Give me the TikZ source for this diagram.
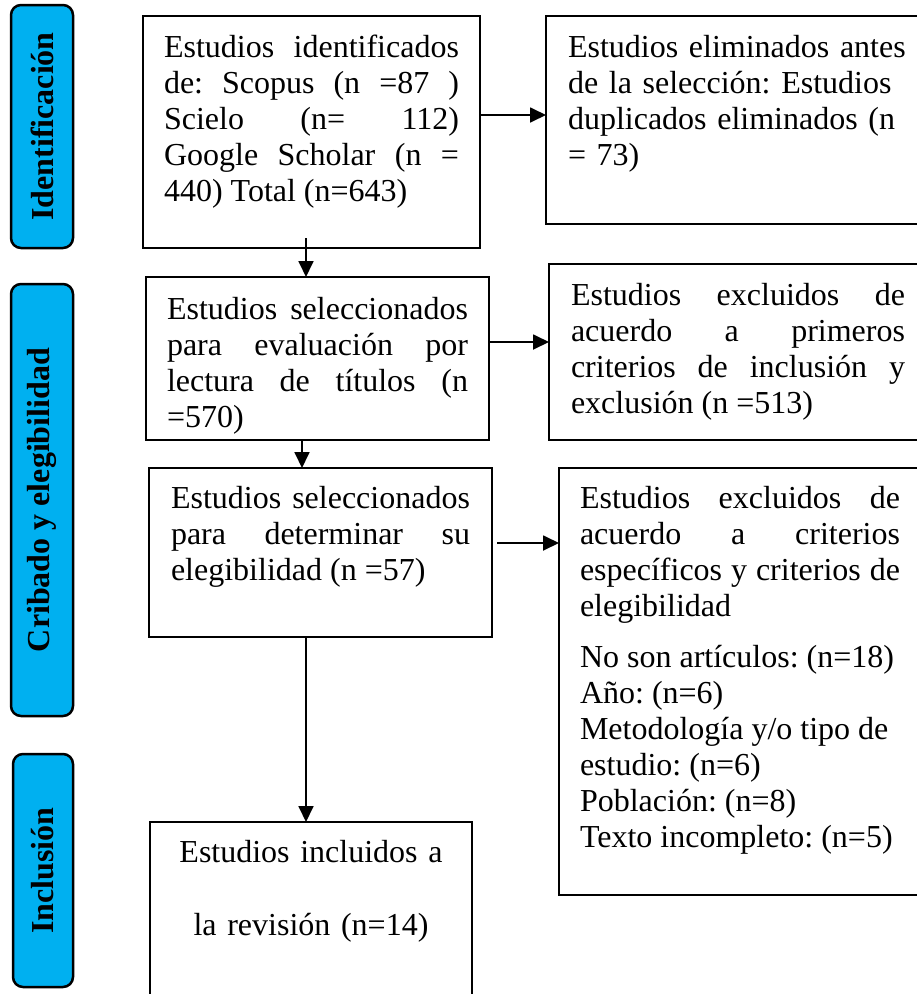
\documentclass[tikz,border=0pt]{standalone}
\usepackage{fontspec}
\setmainfont{Liberation Serif}
\usetikzlibrary{arrows.meta}
\definecolor{phaseblue}{HTML}{00B0F0}
\tolerance=10000
\hyphenpenalty=10000
\frenchspacing

\begin{document}
\begin{tikzpicture}[x=1pt, y=-1pt]
    \tikzstyle{phase} = [rectangle, draw, line width=2.5pt, rounded corners=10pt, fill=phaseblue, rotate=90, inner sep=0pt, outer sep=0pt, font=\fontsize{32}{36}\selectfont\bfseries]
    \tikzstyle{box} = [rectangle, draw, line width=2.5pt, anchor=north west, inner ysep=0pt, outer sep=0pt, align=justify, font=\fontsize{32}{36}\selectfont]
    \tikzstyle{arr} = [line width=1.8pt, -{Triangle[length=16pt, width=15pt]}]

    \useasboundingbox (0,0) rectangle (917,994);
    \clip (0,0) rectangle (917,994);

    % Phases
    \node[phase, minimum width=243pt, minimum height=62pt] (PhId) at (42,126.5) {Identificación};
    \node[phase, minimum width=432pt, minimum height=62pt] (PhCrib) at (42,500) {Cribado y elegibilidad};
    \node[phase, minimum width=233pt, minimum height=60pt] (PhIncl) at (43,870.5) {Inclusión};

    % Main column
    \node[box, text width=295pt, inner xsep=21pt, text height=41pt, text depth=191pt] (ident) at (143,16)
        {Estudios identificados\linebreak de: Scopus (n =87 )\linebreak Scielo (n= 112)\linebreak Google Scholar (n =\linebreak 440) Total (n=643)};
    \node[box, text width=301pt, inner xsep=21pt, text height=42pt, text depth=121pt] (titles) at (146,277)
        {Estudios seleccionados\linebreak para evaluación por\linebreak lectura de títulos (n\linebreak =570)};
    \node[box, text width=299pt, inner xsep=22pt, text height=40pt, text depth=129pt] (elig) at (149,468)
        {Estudios seleccionados\linebreak para determinar su\linebreak elegibilidad (n =57)};
    \node[box, align=center, text width=280pt, inner xsep=21pt, text height=40pt, text depth=150pt] (incl) at (150,822)
        {Estudios incluidos a\\[37pt] la revisión (n=14)};

    % Excluded column
    \node[box, align=left, text width=350pt, inner xsep=22pt, text height=41pt, text depth=167pt] (dup) at (546,16)
        {Estudios eliminados antes\\ de la selección: Estudios\\ duplicados eliminados (n\\ = 73)};
    \node[box, text width=334pt, inner xsep=22pt, text height=41pt, text depth=135pt] (excl1) at (549,264)
        {Estudios excluidos de\linebreak acuerdo a primeros\linebreak criterios de inclusión y\linebreak exclusión (n =513)};
    \node[box, text width=320pt, inner xsep=21pt, text height=40pt, text depth=387pt] (excl2) at (559,468)
        {Estudios excluidos de\linebreak acuerdo a criterios\linebreak específicos y criterios de\linebreak elegibilidad\\[15pt]
         No son artículos: (n=18)\\ Año: (n=6)\\ Metodología y/o tipo de\\ estudio: (n=6)\\ Población: (n=8)\\ Texto incompleto: (n=5)};

    % Arrows
    \draw[arr] ([xshift=-5.5pt, yshift=10pt]ident.south) -- ([xshift=-11.5pt]titles.north);
    \draw[arr] ([xshift=-15.5pt]titles.south) -- ([xshift=-18.5pt]elig.north);
    \draw[arr] ([xshift=-14.5pt]elig.south) -- ([xshift=-5pt]incl.north);
    \draw[arr] ([yshift=17pt]ident.east) -- ([yshift=5pt]dup.west);
    \draw[arr] ([yshift=16.5pt]titles.east) -- ([yshift=10pt]excl1.west);
    \draw[arr, shorten <=5pt] ([yshift=9.5pt]elig.east) -- ([yshift=138.5pt]excl2.west);
\end{tikzpicture}
\end{document}
